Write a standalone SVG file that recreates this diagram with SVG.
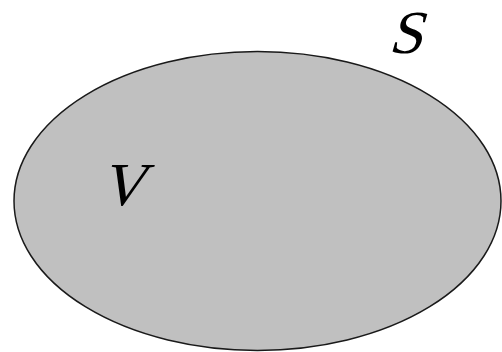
<svg xmlns="http://www.w3.org/2000/svg" width="502" height="352" viewBox="0 0 502 352">
<style>
.lbl{font-size:61px;fill:#000}
</style>
<rect width="502" height="352" fill="#fff"/>
<g id="region-V">
<ellipse cx="257.5" cy="201" rx="243.5" ry="149.5" fill="#c0c0c0" stroke="#1a1a1a" stroke-width="1.5"/>
<g transform="translate(100,205) skewX(-16)"><text class="lbl" font-family="Liberation Serif" x="0" y="0">V</text></g>
</g>
<g id="label-S">
<g transform="translate(388,53) skewX(-16)"><text class="lbl" font-family="Liberation Serif" x="0" y="0">S</text></g>
</g>
<g id="connectors"></g>
</svg>
